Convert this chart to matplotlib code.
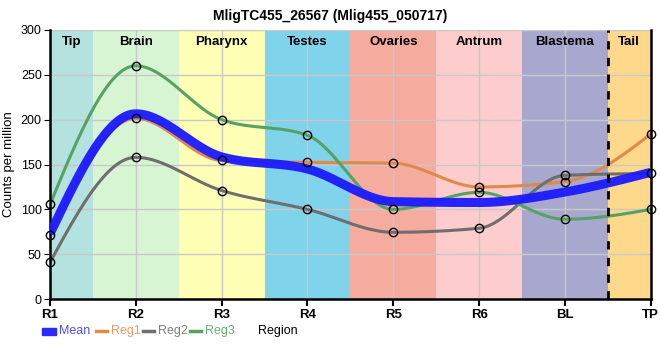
import matplotlib
matplotlib.use('Agg')
import matplotlib.pyplot as plt
from matplotlib.patches import Rectangle
from matplotlib.lines import Line2D
import numpy as np

plt.rcParams['font.family'] = ['Liberation Sans', 'DejaVu Sans']

# data
regions = ['R1', 'R2', 'R3', 'R4', 'R5', 'R6', 'BL', 'TP']
reg1 = [72, 201.5, 154.5, 152.5, 151.5, 125, 131, 184]
reg2 = [41, 158, 121, 100, 74.5, 79, 138, 140]
reg3 = [105.5, 260, 200, 182.5, 100, 119, 89, 100]
mean = list(np.mean([reg1, reg2, reg3], axis=0))

band_names = ['Tip', 'Brain', 'Pharynx', 'Testes', 'Ovaries', 'Antrum', 'Blastema', 'Tail']
band_colors = ['#b3e2df', '#d7f5d2', '#ffffb5', '#7fd3ea', '#f5ab9e', '#fdcccc', '#a8a8cf', '#fed98b']


def monotone_x(y, n=40):
    # smooth curve like d3.curveMonotoneX
    y = np.asarray(y, float)
    x = np.arange(len(y), dtype=float)
    s = np.diff(y)
    m = np.zeros(len(y))
    for i in range(1, len(y) - 1):
        p = (s[i - 1] + s[i]) / 2
        m[i] = (np.sign(s[i - 1]) + np.sign(s[i])) * min(abs(s[i - 1]), abs(s[i]), 0.5 * abs(p))
    m[0] = (3 * s[0] - m[1]) / 2
    m[-1] = (3 * s[-1] - m[-2]) / 2
    xs, ys = [], []
    for i in range(len(y) - 1):
        t = np.linspace(0, 1, n, endpoint=(i == len(y) - 2))
        h00 = 2 * t**3 - 3 * t**2 + 1
        h10 = t**3 - 2 * t**2 + t
        h01 = -2 * t**3 + 3 * t**2
        h11 = t**3 - t**2
        xs.append(x[i] + t)
        ys.append(h00 * y[i] + h10 * m[i] + h01 * y[i + 1] + h11 * m[i + 1])
    return np.concatenate(xs), np.concatenate(ys)


fig = plt.figure(figsize=(6.6, 3.6), dpi=100)
ax = fig.add_axes([0.0758, 0.169, 0.9102, 0.748])

# region bands
for i, (name, c) in enumerate(zip(band_names, band_colors)):
    lo = max(i - 0.5, 0)
    hi = min(i + 0.5, 7)
    ax.axvspan(lo, hi, color=c, zorder=0, lw=0)
    ax.text((lo + hi) / 2, 293, name, ha='center', va='top', fontsize=9.5, fontweight='bold', zorder=5)
ax.axvline(6.5, color='black', ls=(0, (3, 3)), lw=2, zorder=4)

ax.grid(True, color='#c8c8c8', lw=1, zorder=1)
ax.set_axisbelow(True)

series = [('Reg1', reg1, '#e08a4a'), ('Reg2', reg2, '#6e6e6e'), ('Reg3', reg3, '#56a264')]
xm, ym = monotone_x(mean)
ax.plot(xm, ym, color='#1a1aff', lw=6.5, solid_capstyle='butt', zorder=3, alpha=0.95)
for name, vals, c in series:
    xs, ys = monotone_x(vals)
    ax.plot(xs, ys, color=c, lw=2.2, zorder=2.5)
    ax.plot(range(len(vals)), vals, 'o', ms=6, mfc='none', mec='black', mew=1, zorder=6, clip_on=False)

ax.set_xlim(0, 7)
ax.set_ylim(0, 300)
ax.set_xticks(range(len(regions)))
ax.set_xticklabels(regions, fontweight='bold', fontsize=9.5)
ax.set_yticks(range(0, 301, 50))
ax.tick_params(axis='y', labelsize=9, length=4, pad=2)
ax.tick_params(axis='x', length=5, width=1.5, pad=2)
ax.set_ylabel('Counts per million', fontsize=9.5, labelpad=4)
for s in ['left', 'bottom', 'right']:
    ax.spines[s].set_linewidth(1.8)
ax.spines['top'].set_visible(False)

fig.text(0.5, 0.975, 'MligTC455_26567 (Mlig455_050717)', ha='center', va='top', fontsize=10, fontweight='bold')

# legend row along the bottom
W, H = 660, 360
ly = 1 - 331 / H
fig.add_artist(Rectangle((42 / W, ly - 3.5 / H), 14 / W, 7 / H, transform=fig.transFigure, color='#2a2aff'))
fig.text(59 / W, ly, 'Mean', color='#5050ff', fontsize=9, va='center')
leg_items = [('Reg1', 96, 111, '#e08a4a', '#eb9b66'),
             ('Reg2', 143, 158, '#6e6e6e', '#7f7f7f'),
             ('Reg3', 190, 205, '#56a264', '#6aae78')]
for name, x0, tx, c, tc in leg_items:
    fig.add_artist(Line2D([x0 / W, (x0 + 11) / W], [ly, ly], transform=fig.transFigure, color=c, lw=2.5))
    fig.text(tx / W, ly, name, color=tc, fontsize=9, va='center')
fig.text(278 / W, ly, 'Region', ha='center', va='center', fontsize=9)

plt.savefig('out.png', dpi=100)
